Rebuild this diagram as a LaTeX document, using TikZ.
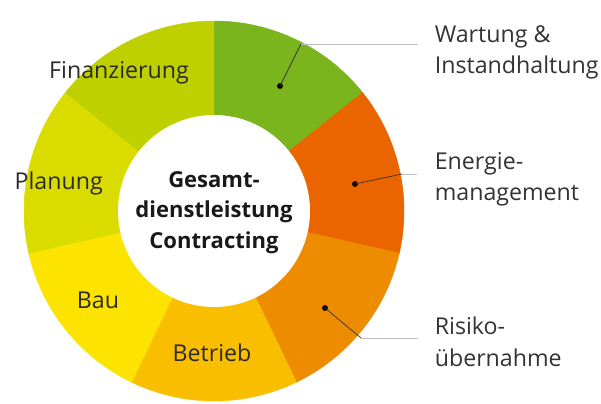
\documentclass[tikz,border=0pt]{standalone}
\usepackage{fontspec}
\setmainfont{Open Sans}
\usetikzlibrary{positioning}
\definecolor{wart}{HTML}{7AB51D}
\definecolor{energ}{HTML}{EA6500}
\definecolor{risk}{HTML}{EE8C00}
\definecolor{betr}{HTML}{F9BE00}
\definecolor{bau}{HTML}{FCE300}
\definecolor{plan}{HTML}{DADC00}
\definecolor{fin}{HTML}{BED000}
\definecolor{txt}{HTML}{333333}
\tikzset{
  seglabel/.style={font=\fontsize{19.8}{26.4}\selectfont, text=txt!85!black},
  sidelabel/.style={anchor=west, align=left, font=\fontsize{19.8}{26.8}\selectfont, text=txt},
  leaderdot/.style={circle, fill=black, inner sep=0pt, minimum size=5pt},
}

\begin{document}
\begin{tikzpicture}
        \useasboundingbox (-6.42,-5.79) rectangle (11.61,6.33);

        % ring of seven segments, clockwise from the top
        \foreach \c [count=\i from 0] in {wart,energ,risk,betr,bau,plan,fin}
          \filldraw[fill=\c, draw=\c, line width=0.4pt] (0,0) -- ({90-\i*360/7}:5.7)
            arc[start angle={90-\i*360/7}, end angle={90-(\i+1)*360/7}, radius=5.7] -- cycle;
        \fill[white] (0,0) circle (2.88);

        \path
        (0,-0.05) node[align=center, font=\bfseries\fontsize{18.8}{26.4}\selectfont, text=black!90](core) {Gesamt-\\dienstleistung\\Contracting}
        (-2.85,4.14) node[seglabel](fin) {Finanzierung}
        (-4.66,0.84) node[seglabel](plan) {Planung}
        (-3.48,-2.67) node[seglabel](bau) {Bau}
        (-0.06,-4.26) node[seglabel](betr) {Betrieb}
        (6.5,4.76) node[sidelabel](wart) {Wartung \&\\Instandhaltung}
        (6.5,0.96) node[sidelabel](energ) {Energie-\\management}
        (6.5,-3.92) node[sidelabel](risk) {Risiko-\\übernahme}
        (1.98,3.75) node[leaderdot](wartdot) {}
        (4.23,0.81) node[leaderdot](energdot) {}
        (3.33,-2.91) node[leaderdot](riskdot) {}
        ;

        \coordinate (wartknee) at (2.61,5.01);
        \coordinate (wartend) at (6.12,5.01);
        \coordinate (energknee) at (5.64,1.11);
        \coordinate (energend) at (6.09,1.11);
        \coordinate (riskknee) at (4.41,-3.81);
        \coordinate (riskend) at (6.12,-3.81);

        \draw[black!80, line width=0.6pt] (wartdot.center) -- (wartknee);
        \draw[black!80, line width=0.6pt] (energdot.center) -- (energknee);
        \draw[black!80, line width=0.6pt] (riskdot.center) -- (riskknee);
        \draw[black!25, line width=0.8pt] (wartknee) -- (wartend);
        \draw[black!25, line width=0.8pt] (energknee) -- (energend);
        \draw[black!25, line width=0.8pt] (riskknee) -- (riskend);
      \end{tikzpicture}
\end{document}
